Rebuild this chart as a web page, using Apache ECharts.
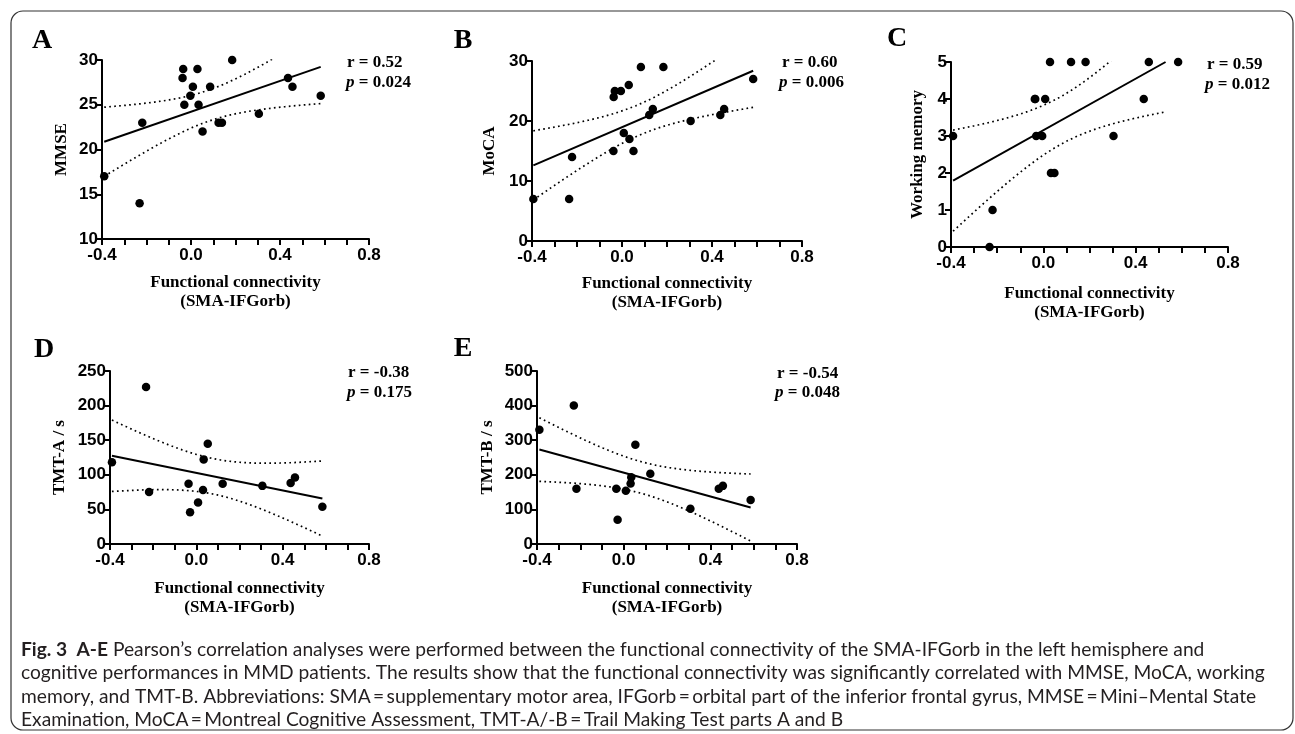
<!DOCTYPE html>
<html>
<head>
<meta charset="utf-8">
<script src="https://cdn.jsdelivr.net/npm/echarts@6/dist/echarts.min.js"></script>
<style>
  html, body { margin: 0; padding: 0; background: #fff; }
  #chart { width: 1295px; height: 734px; }
</style>
</head>
<body>
<div id="chart"></div>
<script>
// panel A – MMSE
const xA = [-0.39, -0.231, -0.219, -0.038, -0.035, -0.030, -0.003, 0.0085, 0.029, 0.034, 0.052, 0.086, 0.124, 0.139, 0.185, 0.305, 0.436, 0.456, 0.583];
const yA = [17, 14, 23, 28, 29, 25, 26, 27, 29, 25, 22, 27, 23, 23, 30, 24, 28, 27, 26];
// panel B – MoCA
const xB = [-0.394, -0.235, -0.222, -0.038, -0.037, -0.032, -0.005, 0.008, 0.030, 0.033, 0.051, 0.084, 0.121, 0.137, 0.184, 0.305, 0.437, 0.454, 0.583];
const yB = [7, 7, 14, 15, 24, 25, 25, 18, 26, 17, 15, 29, 21, 22, 29, 20, 21, 22, 27];
// panel C – working memory (one dot hidden under its neighbour at -0.037)
const xC = [-0.391, -0.233, -0.220, -0.037, -0.035, -0.031, -0.005, 0.008, 0.029, 0.033, 0.048, 0.120, 0.183, 0.304, 0.435, 0.457, 0.584];
const yC = [3, 0, 1, 4, 4, 3, 3, 4, 5, 2, 2, 5, 5, 3, 4, 5, 5];
// panel D – TMT-A
const xD = [-0.391, -0.233, -0.219, -0.036, -0.029, 0.008, 0.031, 0.034, 0.053, 0.122, 0.306, 0.437, 0.457, 0.584];
const yD = [118, 227, 75, 87, 46, 60, 78, 122, 145, 87, 84, 88, 96, 54];
// panel E – TMT-B
const xE = [-0.389, -0.230, -0.218, -0.034, -0.028, 0.010, 0.032, 0.035, 0.054, 0.123, 0.308, 0.439, 0.458, 0.586];
const yE = [330, 400, 160, 160, 70, 154, 175, 193, 287, 203, 102, 160, 168, 127];

const letters = ['A', 'B', 'C', 'D', 'E'];
const yNames = ['MMSE', 'MoCA', 'Working memory', 'TMT-A / s', 'TMT-B / s'];
const rTexts = ['r = 0.52', 'r = 0.60', 'r = 0.59', 'r = -0.38', 'r = -0.54'];
const pTexts = [' = 0.024', ' = 0.006', ' = 0.012', ' = 0.175', ' = 0.048'];
const yMin = [10, 0, 0, 0, 0];
const yMax = [30, 30, 5, 250, 500];
const yStep = [5, 10, 1, 50, 100];
const xTicks = [-0.4, 0.8, 0.4];

// t(0.975, df)
const tTable = {12: 2.179, 13: 2.160, 14: 2.145, 15: 2.131, 16: 2.120, 17: 2.110};

// layout of each panel (px)
const grids = [
    {left: 102, top: 60, width: 267, height: 179, letter: [42, 41], rp: [347, 63, 346, 83], yGap: 32, xGap: 34},
    {left: 532, top: 61, width: 270, height: 180, letter: [463, 41], rp: [782, 63, 779, 83], yGap: 34, xGap: 33},
    {left: 951, top: 62, width: 277, height: 185, letter: [897, 39], rp: [1207, 65, 1205, 85], yGap: 25, xGap: 37},
    {left: 110, top: 371, width: 259, height: 173, letter: [44, 350], rp: [348, 373, 347, 393], yGap: 42, xGap: 35},
    {left: 537, top: 371, width: 260, height: 173, letter: [463, 349], rp: [777, 374, 775, 393], yGap: 41, xGap: 35}
];

const xs = [xA, xB, xC, xD, xE];
const ys = [yA, yB, yC, yD, yE];

function fit(x, y, lo, hi) {
    const n = x.length;
    const mx = x.reduce((a, b) => a + b, 0) / n;
    const my = y.reduce((a, b) => a + b, 0) / n;
    let sxx = 0, sxy = 0;
    for (let i = 0; i < n; i++) {
        sxx += (x[i] - mx) * (x[i] - mx);
        sxy += (x[i] - mx) * (y[i] - my);
    }
    const b = sxy / sxx;
    const a = my - b * mx;
    let sse = 0;
    for (let i = 0; i < n; i++) sse += Math.pow(y[i] - a - b * x[i], 2);
    const s = Math.sqrt(sse / (n - 2));
    const t = tTable[n - 2] || 2.1;
    const x0 = Math.min(...x);
    let x1 = Math.max(...x);
    // stop the curves where the fit leaves the y range
    const yEnd = a + b * x1;
    if (yEnd > hi) x1 = (hi - a) / b;
    if (yEnd < lo) x1 = (lo - a) / b;
    const line = [[x0, a + b * x0], [x1, a + b * x1]];
    const up = [], dn = [];
    const steps = 60;
    for (let k = 0; k <= steps; k++) {
        const xv = x0 + (x1 - x0) * k / steps;
        const h = t * s * Math.sqrt(1 / n + (xv - mx) * (xv - mx) / sxx);
        up.push([xv, a + b * xv + h]);
        dn.push([xv, a + b * xv - h]);
    }
    return {line, up, dn};
}

const axisStyle = {color: '#000', width: 2};
const option = {
    animation: false,
    backgroundColor: '#fff',
    grid: [],
    xAxis: [],
    yAxis: [],
    series: [],
    graphic: []
};

grids.forEach((g, i) => {
    option.grid.push({left: g.left, top: g.top, width: g.width, height: g.height});
    option.xAxis.push({
        gridIndex: i,
        type: 'value',
        min: xTicks[0],
        max: xTicks[1],
        interval: xTicks[2],
        axisLine: {show: true, onZero: false, lineStyle: axisStyle},
        axisTick: {show: true, length: 6, lineStyle: axisStyle},
        minorTick: {show: true, splitNumber: 4, length: 6, lineStyle: axisStyle},
        splitLine: {show: false},
        axisLabel: {
            formatter: (v) => v.toFixed(1),
            fontFamily: 'Liberation Sans',
            fontWeight: 'bold',
            fontSize: 17,
            color: '#000',
            margin: 8
        },
        name: 'Functional connectivity\n(SMA-IFGorb)',
        nameLocation: 'middle',
        nameGap: g.xGap,
        nameTextStyle: {
            fontFamily: 'Liberation Serif',
            fontWeight: 'bold',
            fontSize: 17,
            color: '#000',
            lineHeight: 19,
            verticalAlign: 'top'
        }
    });
    option.yAxis.push({
        gridIndex: i,
        type: 'value',
        min: yMin[i],
        max: yMax[i],
        interval: yStep[i],
        axisLine: {show: true, onZero: false, lineStyle: axisStyle},
        axisTick: {show: true, length: 6, lineStyle: axisStyle},
        splitLine: {show: false},
        axisLabel: {
            fontFamily: 'Liberation Sans',
            fontWeight: 'bold',
            fontSize: 17,
            color: '#000',
            margin: 4
        },
        name: yNames[i],
        nameLocation: 'middle',
        nameGap: g.yGap,
        nameRotate: 90,
        nameTextStyle: {
            fontFamily: 'Liberation Serif',
            fontWeight: 'bold',
            fontSize: 17,
            color: '#000'
        }
    });

    const f = fit(xs[i], ys[i], yMin[i], yMax[i]);
    option.series.push({
        type: 'scatter',
        xAxisIndex: i,
        yAxisIndex: i,
        symbolSize: 8.5,
        itemStyle: {color: '#000', opacity: 1},
        data: xs[i].map((v, k) => [v, ys[i][k]]),
        z: 5
    });
    option.series.push({
        type: 'line',
        xAxisIndex: i,
        yAxisIndex: i,
        showSymbol: false,
        clip: true,
        lineStyle: {color: '#000', width: 2},
        data: f.line
    });
    [f.up, f.dn].forEach((band) => {
        option.series.push({
            type: 'line',
            xAxisIndex: i,
            yAxisIndex: i,
            showSymbol: false,
            clip: true,
            lineStyle: {color: '#000', width: 1.7, type: [1.7, 3.3]},
            data: band
        });
    });

    option.graphic.push({
        type: 'text',
        x: g.letter[0],
        y: g.letter[1],
        style: {
            text: letters[i],
            font: 'bold 28px "Liberation Serif"',
            fill: '#000',
            align: 'center',
            verticalAlign: 'middle'
        }
    });
    option.graphic.push({
        type: 'text',
        x: g.rp[0],
        y: g.rp[1],
        style: {
            text: rTexts[i],
            font: 'bold 17px "Liberation Serif"',
            fill: '#000',
            verticalAlign: 'middle'
        }
    });
    option.graphic.push({
        type: 'text',
        x: g.rp[2],
        y: g.rp[3],
        style: {
            text: '{i|p}{b|' + pTexts[i] + '}',
            verticalAlign: 'middle',
            rich: {
                i: {font: 'italic bold 17px "Liberation Serif"', fill: '#000'},
                b: {font: 'bold 17px "Liberation Serif"', fill: '#000'}
            }
        }
    });
});

// figure frame
option.graphic.push({
    type: 'rect',
    shape: {x: 11, y: 11, width: 1282, height: 719, r: 12},
    style: {fill: 'none', stroke: '#333', lineWidth: 1.2},
    z: -1
});

// caption
const captionLines = [
    '{b|Fig. 3  A-E} Pearson\u2019s correlation analyses were performed between the functional connectivity of the SMA-IFGorb in the left hemisphere and',
    'cognitive performances in MMD patients. The results show that the functional connectivity was significantly correlated with MMSE, MoCA, working',
    'memory, and TMT-B. Abbreviations: SMA\u2009=\u2009supplementary motor area, IFGorb\u2009=\u2009orbital part of the inferior frontal gyrus, MMSE\u2009=\u2009Mini\u2013Mental State',
    'Examination, MoCA\u2009=\u2009Montreal Cognitive Assessment, TMT-A/-B\u2009=\u2009Trail Making Test parts A and B'
];
captionLines.forEach((t, k) => {
    option.graphic.push({
        type: 'text',
        x: 21,
        y: 650 + k * 23.3,
        style: {
            text: t,
            font: '19.2px Lato',
            fill: '#231f20',
            verticalAlign: 'middle',
            rich: {
                b: {font: 'bold 19.2px Lato', fill: '#231f20'}
            }
        }
    });
});

const chart = echarts.init(document.getElementById('chart'), null, {renderer: 'canvas'});
chart.setOption(option);
</script>
</body>
</html>
